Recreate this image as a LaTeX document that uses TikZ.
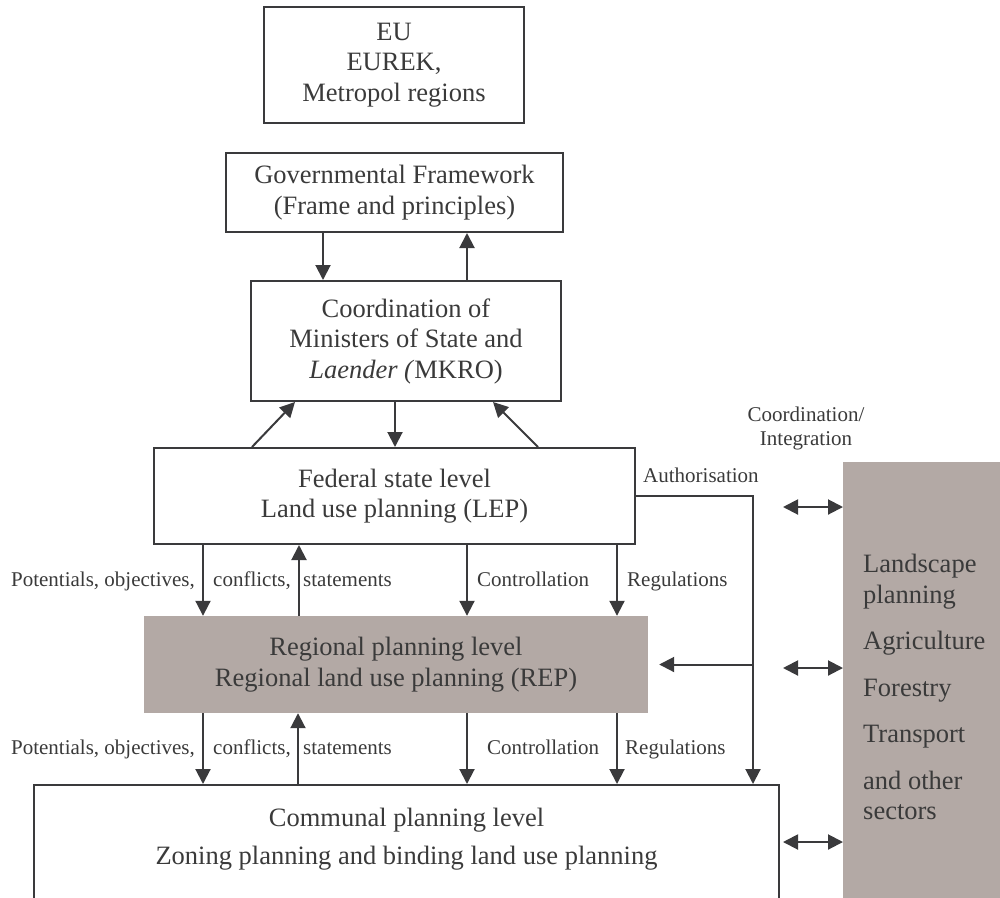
\documentclass[tikz,border=0pt]{standalone}
\usepackage{fontspec}
\setmainfont{Liberation Serif}
\usetikzlibrary{arrows.meta,positioning}
\definecolor{ln}{HTML}{3A3A3C}
\definecolor{gfill}{HTML}{B3A9A5}
\definecolor{txt}{HTML}{3A3A3A}
\newcommand\boxfont{\fontsize{26.5}{30.5}\selectfont}
\newcommand\lblfont{\fontsize{21}{24}\selectfont}

\begin{document}
\begin{tikzpicture}[x=1pt, y=-1pt, every node/.append style={text=txt},
  bx/.style={draw=ln, line width=2pt, inner sep=0pt, align=center, font=\boxfont},
  gbx/.style={fill=gfill, inner sep=0pt, align=center, font=\boxfont},
  lbl/.style={inner sep=0pt, font=\lblfont},
  arr/.style={ln, line width=2pt, -{Triangle[length=15pt,width=15pt]}},
  dbl/.style={ln, line width=2pt, {Triangle[length=15pt,width=15pt]}-{Triangle[length=15pt,width=15pt]}}]
\useasboundingbox (0,0) rectangle (1000,897);
\clip (0,0) rectangle (1000,897);

% levels
\node[bx, minimum width=260, minimum height=116] (eu) at (394,65) {EU\\EUREK,\\Metropol regions};
\node[bx, minimum width=337, minimum height=79] (gov) at (394.5,192.5) {Governmental Framework\\(Frame and principles)};
\node[bx, minimum width=310, minimum height=120] (mkro) at (406,341) {Coordination of\\Ministers of State and\\\textit{Laender (}MKRO)};
\node[bx, minimum width=481, minimum height=96] (lep) at (394.5,496) {Federal state level\\Land use planning (LEP)};
\node[gbx, minimum width=504, minimum height=97] (rep) at (396,664.5) {Regional planning level\\Regional land use planning (REP)};
\node[bx, anchor=north, minimum width=745] (comm) at (406.5,784) {\parbox[c][140pt][t]{741pt}{\centering\vspace*{23pt}Communal planning level\\[7.5pt]Zoning planning and binding land use planning}};
\node[gbx, anchor=north west, minimum width=164, minimum height=450] (sec) at (843,462) {\parbox[c][450pt][t]{124pt}{\raggedright\vspace*{92pt}Landscape\\planning\\[16pt]Agriculture\\[16pt]Forestry\\[16pt]Transport\\[16pt]and other\\sectors}};

% labels
\foreach \y/\cx/\rx in {586/477/627, 754/487/625}{
  \node[lbl, anchor=base east] at (195,\y) {Potentials, objectives,};
  \node[lbl, anchor=base west] at (213,\y) {conflicts,};
  \node[lbl, anchor=base west] at (303,\y) {statements};
  \node[lbl, anchor=base west] at (\cx,\y) {Controllation};
  \node[lbl, anchor=base west] at (\rx,\y) {Regulations};
}
\node[lbl, anchor=base west] (authlbl) at (643,482) {Authorisation};
\node[lbl, align=center] (coint) at (806,428) {Coordination/\\Integration};

% arrows
\draw[arr] (gov.south -| 323,0) -- (mkro.north -| 323,0);
\draw[arr] (mkro.north -| 467,0) -- (gov.south -| 467,0);
\draw[arr] (lep.north -| 252,0) -- (mkro.south -| 295,0);
\draw[arr] (mkro.south -| 395,0) -- (lep.north -| 395,0);
\draw[arr] (lep.north -| 538,0) -- (mkro.south -| 493,0);
\foreach \x in {203,467,617}{
  \draw[arr] (lep.south -| \x,0) -- (rep.north -| \x,0);
  \draw[arr] (rep.south -| \x,0) -- (comm.north -| \x,0);
}
\draw[arr] (rep.north -| 299,0) -- (lep.south -| 299,0);
\draw[arr] (comm.north -| 298,0) -- (rep.south -| 298,0);

% authorisation
\coordinate (auth) at (753,0 |- lep.east);
\coordinate (authrep) at (auth |- rep.east);
\coordinate (reptip) at ([xshift=11pt]rep.east);
\draw[arr] (lep.east) -- (auth) -- (comm.north -| auth);
\draw[arr] (authrep) -- (reptip);

% coordination with sectors
\foreach \y [count=\i] in {507,668,842}{
  \coordinate (co\i) at (783,\y);
  \draw[dbl] (co\i) -- (sec.west |- co\i);
}
\end{tikzpicture}
\end{document}
